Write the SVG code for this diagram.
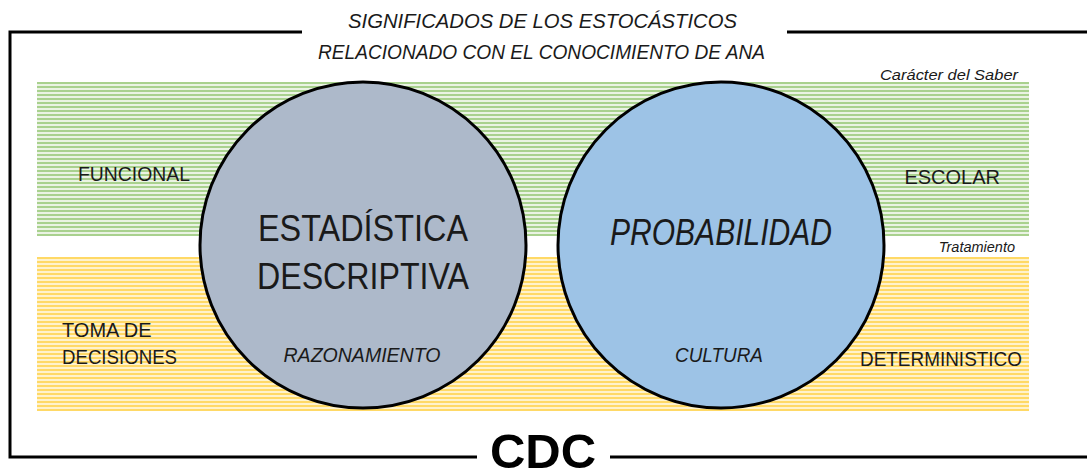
<svg xmlns="http://www.w3.org/2000/svg" width="1087" height="476" viewBox="0 0 1087 476">
<defs>
<pattern id="pg" width="8" height="4" patternUnits="userSpaceOnUse" y="82">
<rect width="8" height="4" fill="#EAF3E3"/>
<rect width="8" height="2" fill="#A9D18E"/>
</pattern>
<pattern id="py" width="8" height="4" patternUnits="userSpaceOnUse" y="257">
<rect width="8" height="4" fill="#FFF2CC"/>
<rect width="8" height="2" fill="#FFD966"/>
</pattern>
<style>
text{font-family:"Liberation Sans",Arial,sans-serif;fill:#1a1a1a}
.it{font-style:italic}
.lbl{font-size:20px}
.small{font-size:14.5px;font-style:italic}
.big{font-size:36px}
.circ{stroke:#000;stroke-width:3}
.fr{stroke:#000;stroke-width:3;fill:none}
</style>
</defs>
<rect width="1087" height="476" fill="#fff"/>
<g id="bands">
<rect x="37" y="82" width="992" height="154" fill="url(#pg)"/>
<rect x="37" y="257" width="992" height="154" fill="url(#py)"/>
<text class="small" x="1018" y="80" text-anchor="end" textLength="138" lengthAdjust="spacingAndGlyphs">Carácter del Saber</text>
<text class="small" x="1015" y="252" text-anchor="end">Tratamiento</text>
</g>
<g id="frame">
<polyline class="fr" points="302,32 10,32 10,457 477,457"/>
<line class="fr" x1="787" y1="32" x2="1087" y2="32"/>
<line class="fr" x1="610" y1="457" x2="1087" y2="457"/>
</g>
<g id="title">
<text class="it" x="542.5" y="28" font-size="20" text-anchor="middle" textLength="389" lengthAdjust="spacingAndGlyphs">SIGNIFICADOS DE LOS ESTOCÁSTICOS</text>
<text class="it" x="541.5" y="59" font-size="20" text-anchor="middle" textLength="447" lengthAdjust="spacingAndGlyphs">RELACIONADO CON EL CONOCIMIENTO DE ANA</text>
</g>
<g id="funcional"><text class="lbl" x="78" y="181" textLength="112" lengthAdjust="spacingAndGlyphs">FUNCIONAL</text></g>
<g id="escolar"><text class="lbl" x="1000" y="184" text-anchor="end">ESCOLAR</text></g>
<g id="toma"><text class="lbl" x="62" y="337">TOMA DE</text><text class="lbl" x="62" y="364" textLength="115" lengthAdjust="spacingAndGlyphs">DECISIONES</text></g>
<g id="determ"><text class="lbl" x="1022" y="366" text-anchor="end" textLength="162" lengthAdjust="spacingAndGlyphs">DETERMINISTICO</text></g>
<g id="estadistica">
<circle class="circ" cx="363" cy="245" r="163" fill="#ADB9CA"/>
<text class="big" x="363" y="241" text-anchor="middle" textLength="210" lengthAdjust="spacingAndGlyphs">ESTADÍSTICA</text>
<text class="big" x="363" y="289" text-anchor="middle" textLength="212" lengthAdjust="spacingAndGlyphs">DESCRIPTIVA</text>
<text class="lbl it" x="362" y="362" text-anchor="middle" textLength="157" lengthAdjust="spacingAndGlyphs">RAZONAMIENTO</text>
</g>
<g id="probabilidad">
<circle class="circ" cx="721" cy="245" r="163" fill="#9DC3E6"/>
<text class="big it" x="721" y="245" text-anchor="middle" textLength="222" lengthAdjust="spacingAndGlyphs">PROBABILIDAD</text>
<text class="lbl it" x="719" y="362" text-anchor="middle" textLength="88" lengthAdjust="spacingAndGlyphs">CULTURA</text>
</g>
<g id="cdc"><text x="543" y="468" font-size="49" font-weight="bold" text-anchor="middle" style="fill:#000">CDC</text></g>
</svg>
